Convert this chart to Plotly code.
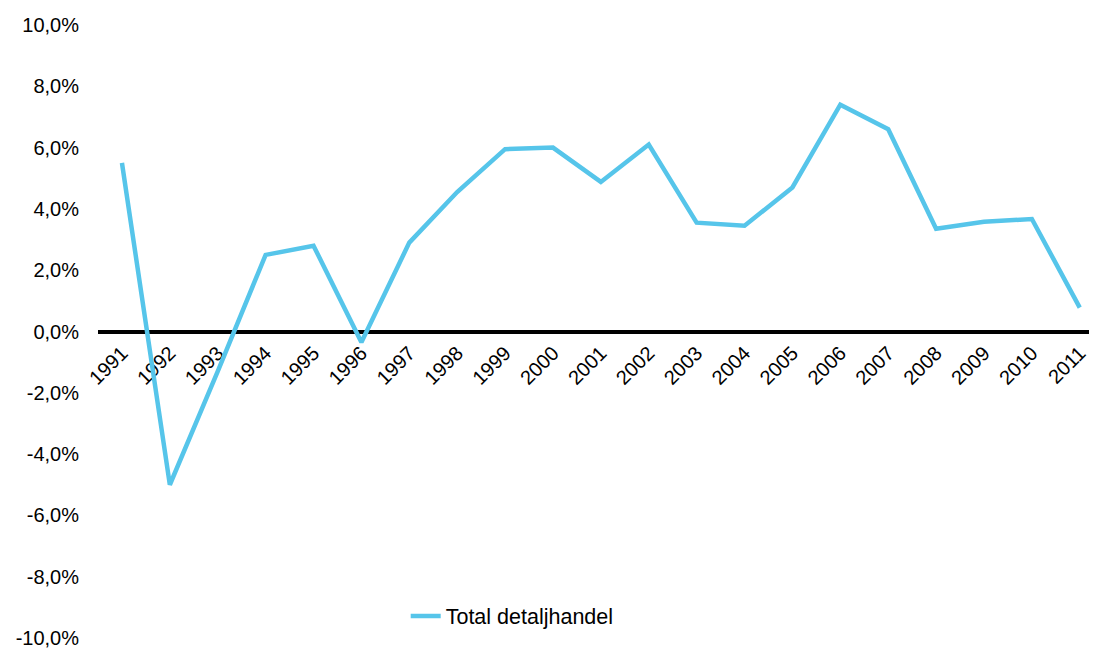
import plotly.graph_objects as go

years = [str(y) for y in range(1991, 2012)]
values = [5.5, -5.0, -1.3, 2.5, 2.8, -0.35, 2.9, 4.55, 5.95, 6.0, 4.88,
          6.1, 3.55, 3.45, 4.7, 7.4, 6.6, 3.35, 3.58, 3.67, 0.78]
series_name = "Total detaljhandel"
y_tickvals = [10, 8, 6, 4, 2, 0, -2, -4, -6, -8, -10]
y_ticktext = ["10,0%", "8,0%", "6,0%", "4,0%", "2,0%", "0,0%",
              "-2,0%", "-4,0%", "-6,0%", "-8,0%", "-10,0%"]

FONT = "Liberation Sans, Arial, sans-serif"

fig = go.Figure()
fig.add_trace(go.Scatter(
    x=list(range(len(years))), y=values, mode="lines", name=series_name,
    line=dict(color="#56C5EA", width=4.5),
))

fig.update_layout(
    width=1089, height=642,
    margin=dict(l=90, r=0, t=17, b=12, autoexpand=False),
    paper_bgcolor="white", plot_bgcolor="white",
    font=dict(family=FONT, size=20, color="#000000"),
    showlegend=True,
    legend=dict(x=0.308, y=0.036, xanchor="left", yanchor="middle",
                bgcolor="rgba(0,0,0,0)", font=dict(size=21.5),
                itemwidth=30),
    xaxis=dict(
        tickmode="array", tickvals=list(range(len(years))), ticktext=years,
        range=[-0.5, 20.36], tickangle=-45, showgrid=False, zeroline=False,
        anchor="free", position=0.5, showline=True, linecolor="black",
        linewidth=4, ticks="", tickfont=dict(size=20), automargin=False,
        layer="below traces", ticklabeloverflow="allow",
    ),
    yaxis=dict(
        range=[-10, 10], tickmode="array", tickvals=y_tickvals,
        ticktext=y_ticktext, showgrid=False, zeroline=False, showline=False,
        ticks="", ticklabelstandoff=18, tickfont=dict(size=20),
        automargin=False, ticklabeloverflow="allow",
    ),
)

fig.write_html("out.html")
